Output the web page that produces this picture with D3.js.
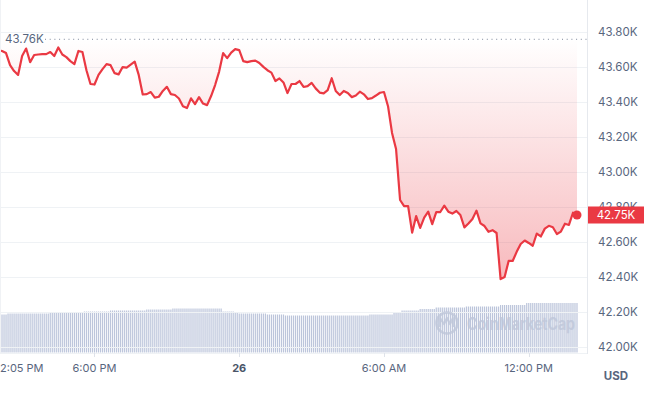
<!DOCTYPE html>
<html>
<head>
<meta charset="utf-8">
<script src="https://cdn.jsdelivr.net/npm/d3@7"></script>
<style>
body { margin: 0; background: #fff; }
svg { display: block; font-family: Inter, "Noto Sans", sans-serif; }
</style>
</head>
<body>
<div id="chart"></div>
<script>
// BTC price, one point every 10 minutes from 25 Dec 14:00 to 26 Dec 14:00
var priceStart = "2023-12-25T14:00";
var priceStepMin = 10;
var prices = [
	43698, 43693, 43681, 43612, 43578, 43556, 43664, 43707, 43629, 43670,
	43673, 43675, 43675, 43687, 43664, 43713, 43673, 43658, 43635, 43618,
	43693, 43687, 43583, 43504, 43501, 43556, 43589, 43618, 43612, 43566,
	43559, 43601, 43598, 43615, 43632, 43556, 43444, 43446, 43458, 43426,
	43431, 43464, 43488, 43446, 43441, 43421, 43377, 43366, 43422, 43389,
	43429, 43392, 43383, 43435, 43498, 43575, 43681, 43652, 43684, 43704,
	43698, 43635, 43629, 43635, 43638, 43624, 43602, 43583, 43569, 43521,
	43536, 43513, 43452, 43504, 43504, 43521, 43487, 43492, 43510, 43479,
	43455, 43450, 43469, 43537, 43464, 43441, 43464, 43452, 43429, 43438,
	43460, 43445, 43418, 43423, 43438, 43454, 43458, 43377, 43224, 43132,
	42840, 42805, 42805, 42653, 42748, 42680, 42739, 42773, 42702, 42771,
	42771, 42808, 42773, 42762, 42777, 42754, 42683, 42705, 42731, 42779,
	42706, 42691, 42658, 42667, 42651, 42387, 42399, 42491, 42491, 42543,
	42588, 42608, 42594, 42578, 42648, 42631, 42676, 42692, 42684, 42645,
	42659, 42704, 42697, 42767, 42754
];

// 24h volume (billions USD), held from each start time until the next
var volStarts = [
	"2023-12-25T14:00", "2023-12-25T14:25", "2023-12-25T16:10", "2023-12-25T17:35",
	"2023-12-25T18:40", "2023-12-25T20:10", "2023-12-25T21:15", "2023-12-25T23:20",
	"2023-12-25T23:50", "2023-12-26T00:00", "2023-12-26T01:10", "2023-12-26T01:55",
	"2023-12-26T05:25", "2023-12-26T06:25", "2023-12-26T06:45", "2023-12-26T07:30",
	"2023-12-26T08:10", "2023-12-26T09:25", "2023-12-26T10:50", "2023-12-26T11:55"
];
var volValues = [
	19.0, 19.5, 20.0, 20.5, 21.0, 21.5, 22.0, 20.5, 20.0, 19.5,
	19.0, 18.5, 19.0, 20.0, 21.0, 21.75, 22.5, 23.0, 23.75, 24.75
];

var priceTicks = [42000, 42200, 42400, 42600, 42800, 43000, 43200, 43400, 43600, 43800];
var timeTicks = ["2023-12-25T18:00", "2023-12-26T00:00", "2023-12-26T06:00", "2023-12-26T12:00"];
var timeTickLabels = ["6:00 PM", "26", "6:00 AM", "12:00 PM"];
var firstTimeLabel = "2:05 PM";
var highPrice = 43760;

var W = 653, H = 395;
var plotRight = 587, plotBottom = 353;
var red = "#ea3943", grey = "#58667e";

var parse = d3.timeParse("%Y-%m-%dT%H:%M");
var t0 = parse("2023-12-25T14:05");
var t1 = parse("2023-12-26T14:05");

var x = d3.scaleTime().domain([t0, t1]).range([0, 579]);
var y = d3.scaleLinear().domain([42000, 43800]).range([346.7, 32.3]);
var yVol = d3.scaleLinear().domain([0, 25]).range([352.5, 302.5]);

var pStart = parse(priceStart);
var series = prices.map(function(p, i) {
	return { t: d3.timeMinute.offset(pStart, i * priceStepMin), price: p };
});

var volDates = volStarts.map(parse);
var bis = d3.bisector(function(d) { return d; }).right;
var bars = d3.timeMinute.every(5).range(t0, d3.timeMinute.offset(t1, -4)).map(function(t) {
	var k = Math.max(0, bis(volDates, t) - 1);
	return { t: t, v: volValues[k] };
});

var svg = d3.select("#chart").append("svg")
	.attr("width", W).attr("height", H);

var defs = svg.append("defs");
defs.append("clipPath").attr("id", "plot")
	.append("rect").attr("x", 0).attr("y", 0).attr("width", plotRight).attr("height", plotBottom);

var grad = defs.append("linearGradient").attr("id", "fillGrad")
	.attr("gradientUnits", "userSpaceOnUse")
	.attr("x1", 0).attr("x2", 0)
	.attr("y1", y(highPrice)).attr("y2", 280);
grad.append("stop").attr("offset", 0).attr("stop-color", red).attr("stop-opacity", 0);
grad.append("stop").attr("offset", 1).attr("stop-color", red).attr("stop-opacity", 0.35);

var plot = svg.append("g").attr("clip-path", "url(#plot)");

// volume bars
plot.selectAll("rect.vol")
	.data(bars)
	.enter()
	.append("rect")
	.attr("class", "vol")
	.attr("x", function(d) { return x(d.t) - 0.6; })
	.attr("width", 1.2)
	.attr("y", function(d) { return yVol(d.v); })
	.attr("height", function(d) { return yVol(0) - yVol(d.v); })
	.attr("fill", "#bcc5db");

// grid
plot.selectAll("line.grid")
	.data(priceTicks)
	.enter()
	.append("line")
	.attr("x1", 0).attr("x2", plotRight)
	.attr("y1", function(d) { return Math.round(y(d)) + 0.5; })
	.attr("y2", function(d) { return Math.round(y(d)) + 0.5; })
	.attr("stroke", "#eff2f5");

// watermark
var wm = svg.append("g").attr("fill", "#bfc7da").attr("opacity", 0.8);
wm.append("circle").attr("cx", 447).attr("cy", 323).attr("r", 10.5)
	.attr("fill", "none").attr("stroke", "#bfc7da").attr("stroke-width", 2.6);
wm.append("path")
	.attr("d", "M440,327 L440,318 L444,324 L447,318 L450,324 L453,318 L453,327")
	.attr("fill", "none").attr("stroke", "#bfc7da").attr("stroke-width", 2.2)
	.attr("stroke-linejoin", "round");
wm.append("text").attr("x", 467).attr("y", 329.5)
	.attr("font-size", 17).attr("font-weight", 700)
	.attr("textLength", 108).attr("lengthAdjust", "spacingAndGlyphs")
	.text("CoinMarketCap");

// area between the high line and price
var area = d3.area()
	.x(function(d) { return x(d.t); })
	.y0(y(highPrice))
	.y1(function(d) { return y(d.price); });
plot.append("path").datum(series).attr("d", area).attr("fill", "url(#fillGrad)");

// dotted high line
svg.append("line")
	.attr("x1", 45).attr("x2", plotRight)
	.attr("y1", y(highPrice)).attr("y2", y(highPrice))
	.attr("stroke", "#7d879a").attr("stroke-width", 1)
	.attr("stroke-dasharray", "1,3.7");
svg.append("text").attr("x", 5).attr("y", y(highPrice) + 4)
	.attr("font-size", 11.5).attr("fill", grey)
	.text(d3.format(".2f")(highPrice / 1000) + "K");

var line = d3.line()
	.x(function(d) { return x(d.t); })
	.y(function(d) { return y(d.price); });
plot.append("path").datum(series).attr("d", line)
	.attr("fill", "none").attr("stroke", red).attr("stroke-width", 2.2)
	.attr("stroke-linejoin", "round");

var last = series[series.length - 1];
svg.append("circle").attr("cx", x(last.t)).attr("cy", y(last.price)).attr("r", 4.5).attr("fill", red);

// borders
svg.append("line").attr("x1", plotRight + 0.5).attr("x2", plotRight + 0.5)
	.attr("y1", 0).attr("y2", plotBottom + 1).attr("stroke", "#e6e9ee");
svg.append("line").attr("x1", 0.5).attr("x2", 0.5)
	.attr("y1", 0).attr("y2", plotBottom).attr("stroke", "#f0f2f5");
svg.append("line").attr("x1", 0).attr("x2", plotRight)
	.attr("y1", plotBottom + 0.5).attr("y2", plotBottom + 0.5).attr("stroke", "#eff2f5");

// y labels
svg.selectAll("text.ylab")
	.data(priceTicks)
	.enter()
	.append("text")
	.attr("class", "ylab")
	.attr("x", 598)
	.attr("y", function(d) { return y(d) + 4; })
	.attr("font-size", 11.5).attr("fill", grey)
	.text(function(d) { return d3.format(".2f")(d / 1000) + "K"; });

// last price tag (covers the tick label behind it, as in the original)
svg.append("rect").attr("x", 588).attr("y", y(last.price) - 8.5)
	.attr("width", 56).attr("height", 17).attr("fill", red);
svg.append("text").attr("x", 616).attr("y", y(last.price) + 4)
	.attr("text-anchor", "middle").attr("font-size", 11.5).attr("fill", "#fff")
	.text(d3.format(".2f")(Math.floor(last.price / 10) / 100) + "K");

// x ticks
var tickDates = timeTicks.map(parse);
svg.selectAll("line.xtick")
	.data(tickDates)
	.enter()
	.append("line")
	.attr("x1", function(d) { return Math.round(x(d)) + 0.5; })
	.attr("x2", function(d) { return Math.round(x(d)) + 0.5; })
	.attr("y1", plotBottom).attr("y2", plotBottom + 4)
	.attr("stroke", "#dfe3ea");
svg.selectAll("text.xlab")
	.data(tickDates)
	.enter()
	.append("text")
	.attr("x", function(d) { return x(d); })
	.attr("y", 372)
	.attr("text-anchor", "middle")
	.attr("font-size", 11)
	.attr("font-weight", function(d, i) { return timeTickLabels[i] === "26" ? 700 : 400; })
	.attr("fill", function(d, i) { return timeTickLabels[i] === "26" ? "#4a5568" : grey; })
	.text(function(d, i) { return timeTickLabels[i]; });
svg.append("text").attr("x", 0).attr("y", 372)
	.attr("font-size", 11).attr("fill", grey).text(firstTimeLabel);

svg.append("text").attr("x", 616).attr("y", 380)
	.attr("text-anchor", "middle").attr("font-size", 11.5)
	.attr("font-weight", 700).attr("fill", grey).text("USD");
</script>
</body>
</html>
